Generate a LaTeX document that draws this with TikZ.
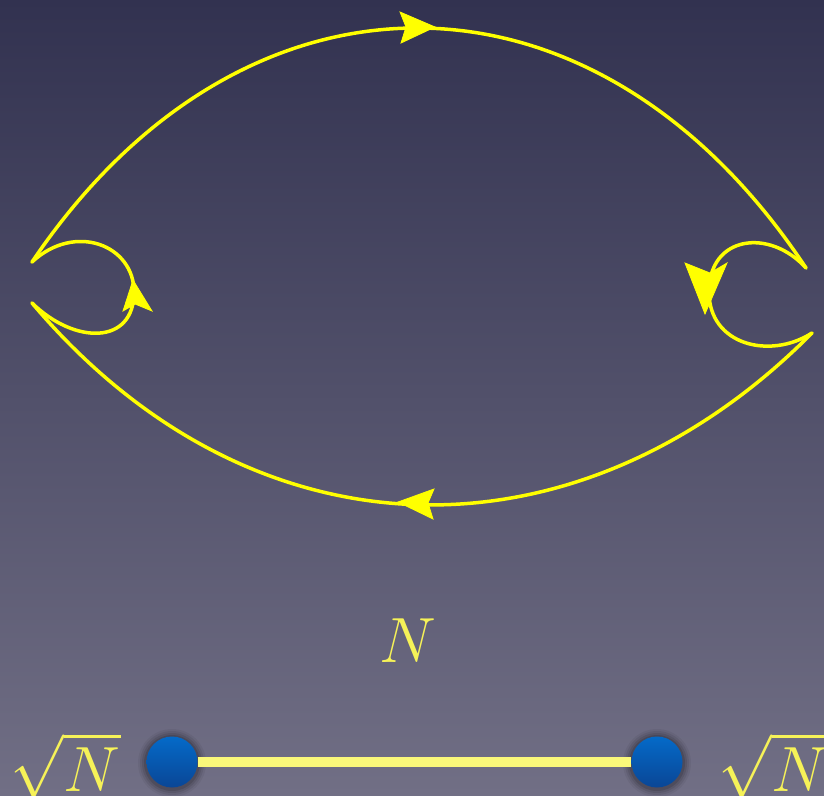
\documentclass[tikz,border=0pt]{standalone}
\usetikzlibrary{arrows.meta,shadings}
\definecolor{bgtop}{RGB}{50,50,80}
\definecolor{bgbot}{RGB}{113,111,133}
\definecolor{wire}{RGB}{255,255,0}
\definecolor{lbl}{RGB}{246,242,88}
\definecolor{barc}{RGB}{250,248,122}
\definecolor{balltop}{RGB}{4,106,200}
\definecolor{ballbot}{RGB}{10,70,150}
\tikzset{
  wireline/.style={draw=wire, line width=3.5pt, line cap=round, line join=round},
  headfill/.style={fill=wire, draw=wire, line width=0.8pt, line join=miter},
  ball/.style={circle, minimum size=51pt, inner sep=0pt, top color=balltop, bottom color=ballbot, draw=none},
  mathlbl/.style={text=lbl, inner sep=0pt, font=\Huge, scale=2.57},
}
\begin{document}
\begin{tikzpicture}[x=1pt,y=-1pt]
\shade[top color=bgtop, bottom color=bgbot] (0,0) rectangle (824,795);
\useasboundingbox (0,0) rectangle (824,795);
% cusp points
\coordinate (A1) at (32,262);
\coordinate (A2) at (32,303);
\coordinate (B1) at (806,268);
\coordinate (B2) at (812,333);
% upper arc
\draw[wireline] (A1) .. controls (243,-51) and (595,-51) .. (B1);
% right loop
\draw[wireline] (B1) .. controls (770,228) and (709,235) .. (709,292)
   .. controls (709,345) and (770,360) .. (B2);
% lower arc
\draw[wireline] (B2) .. controls (580,567) and (255,567) .. (A2);
% left loop
\draw[wireline] (A2) .. controls (75,345) and (134,345) .. (134,292)
   .. controls (134,245) and (75,222) .. (A1);
% arrowheads
\filldraw[headfill] (435,27) -- (400,12) -- (406,27) -- (401,43) -- cycle;
\filldraw[headfill] (398,502) -- (434,489) -- (428,503) -- (433,519) -- cycle;
\filldraw[headfill] (133,280) -- (123,311) -- (135,304) -- (152,311) -- cycle;
\filldraw[headfill] (705,314) -- (685,263) -- (710,273) -- (727,263) -- cycle;
% labels
\node[mathlbl, anchor=base] (n) at (408,662) {$N$};
\node[mathlbl, anchor=base west] (sl) at (10,791) {$\sqrt{N}$};
\node[mathlbl, anchor=base west] (sr) at (718,791) {$\sqrt{N}$};
% shadows of the dots
\foreach \r/\o in {34/0.05,32/0.07,30/0.09,28/0.12}{
  \fill[black, opacity=\o] (172,763) circle (\r);
  \fill[black, opacity=\o] (657,763) circle (\r);
}
\node[ball] (L) at (172,762) {};
\node[ball] (R) at (657,762) {};
\draw[barc, line width=10pt] (L) -- (R);
\end{tikzpicture}
\end{document}
